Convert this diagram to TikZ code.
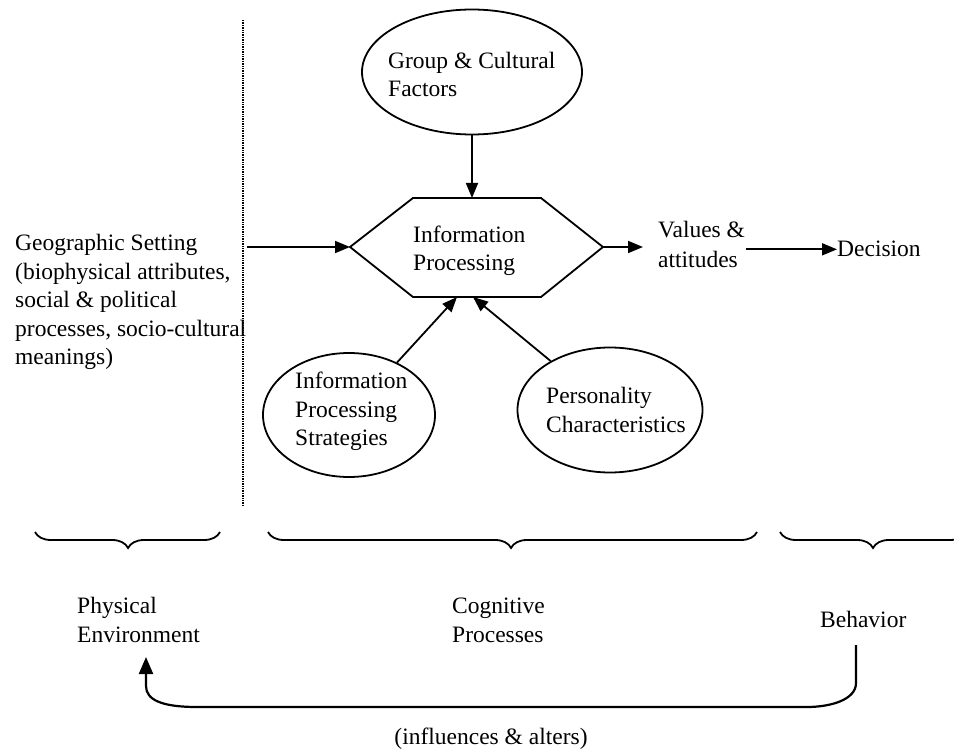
\documentclass[tikz,border=0pt]{standalone}
\usepackage{fontspec}
\setmainfont{Liberation Serif}
\usetikzlibrary{arrows.meta,shapes.geometric,decorations.pathreplacing}
\begin{document}
\begin{tikzpicture}[x=1pt,y=-1pt,
  txt/.style={font=\fontsize{23.5}{28.5}\selectfont, inner sep=0pt, align=left},
  oval/.style={draw, line width=1.8pt, ellipse, inner sep=0pt},
  conn/.style={line width=1.8pt, -{Triangle[length=15pt,width=12pt]}},
  hexline/.style={line width=1.8pt, line join=miter},
  bracestyle/.style={decorate, decoration={brace, mirror, amplitude=16pt, aspect=#1}, line width=1.8pt},
  fbline/.style={line width=2.2pt, -{Triangle[length=17pt,width=14pt]}},
]
\clip (0,0) rectangle (954,751);
\fill[white] (0,0) rectangle (954,751);

% dotted divider
\coordinate (dTop) at (243,20);
\coordinate (dBot) at (243,505);
\draw[densely dotted, line width=1.4pt] (dTop) -- (dBot);

% hexagon
\coordinate (hexL) at (350,247);
\coordinate (hexR) at (603,247);
\coordinate (hexT) at (472,198);
\coordinate (hexB1) at (457,297);
\coordinate (hexB2) at (473,297);
\draw[hexline] (hexL) -- (413,198) -- (541,198) -- (hexR) -- (541,297) -- (413,297) -- cycle;
\node[txt, anchor=base west] (ip) at (413,271) {Information\\Processing};

% ellipses
\node[oval, minimum width=220pt, minimum height=125pt] (grp) at (472,72) {};
\node[txt, anchor=base west] (grpT) at (388,97) {Group \& Cultural\\Factors};
\node[oval, minimum width=172pt, minimum height=124pt] (ips) at (349,415) {};
\node[txt, anchor=base west] (ipsT) at (295,446) {Information\\Processing\\Strategies};
\node[oval, minimum width=185pt, minimum height=125pt] (pers) at (610,410) {};
\node[txt, anchor=base west] (persT) at (546,432) {Personality\\Characteristics};

% left text
\node[txt, anchor=base west] (geo) at (15,365) {Geographic Setting\\(biophysical attributes,\\social \& political\\processes, socio-cultural\\meanings)};
\coordinate (geoR) at (247,247);

% right texts
\node[txt, anchor=base west, font=\fontsize{23.5}{30}\selectfont] (val) at (658,268) {Values \&\\attitudes};
\node[txt, anchor=base west] (dec) at (837,257) {Decision};
\coordinate (valIn) at (643,247);

% connectors
\draw[conn] (grp.south) -- (hexT);
\draw[conn] (geoR) -- (hexL);
\draw[conn] (ips) -- (hexB1);
\draw[conn] (pers) -- (hexB2);
\draw[conn] (hexR) -- (valIn);
\draw[conn] ([xshift=1pt]val.east |- dec.west) -- (dec.west);

% braces
\coordinate (b1a) at (35,532);
\coordinate (b1b) at (220,532);
\coordinate (b2a) at (268,532);
\coordinate (b2b) at (757,532);
\coordinate (b3a) at (780,532);
\coordinate (b3b) at (966,532);
\draw[bracestyle=0.503] (b1a) -- (b1b);
\draw[bracestyle=0.497] (b2a) -- (b2b);
\draw[bracestyle=0.5] (b3a) -- (b3b);

% bottom labels
\node[txt, anchor=base west] (phys) at (77,642) {Physical\\Environment};
\node[txt, anchor=base west] (cog) at (452,642) {Cognitive\\Processes};
\node[txt, anchor=base west] (beh) at (820,627) {Behavior};
\node[txt, anchor=base] (infl) at (491,744) {(influences \& alters)};

% feedback arrow
\coordinate (fbStart) at (856,645);
\coordinate (fbEnd) at (146,657);
\draw[fbline] (fbStart) -- (856,683) .. controls (856,700) and (830,707) .. (807,707) -- (197,707) .. controls (162,707) and (146,700) .. (146,686) -- (fbEnd);
\end{tikzpicture}
\end{document}
